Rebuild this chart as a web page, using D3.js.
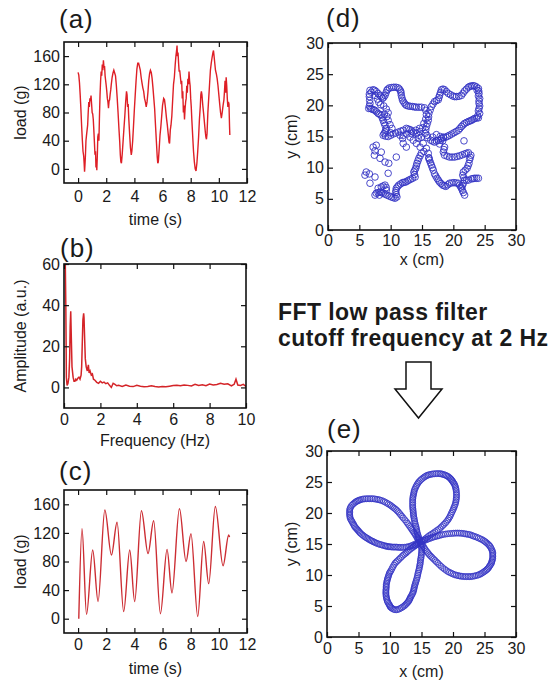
<!DOCTYPE html>
<html lang="en">
<head>
<meta charset="utf-8">
<title>Load signal, FFT and trajectory</title>
<script src="https://cdn.jsdelivr.net/npm/d3@7"></script>
<style>
	body { margin: 0; background: #fff; }
	svg text { font-family: "Liberation Sans", Arial, sans-serif; fill: #1a1a1a; }
</style>
</head>
<body>
<script>

var w = 557;
var h = 683;

// (a) raw load signal
var aTime = [0.00,0.05,0.10,0.15,0.20,0.25,0.30,0.35,0.40,0.43,0.46,0.49,0.52,0.56,0.60,0.64,0.68,0.72,0.76,0.80,0.84,0.88,0.92,0.96,1.00,1.04,1.08,1.12,1.16,1.20,1.24,1.27,1.30,1.33,1.37,1.40,1.44,1.48,1.52,1.56,1.60,1.64,1.68,1.72,1.76,1.80,1.84,1.88,1.92,1.96,2.00,2.04,2.08,2.12,2.16,2.20,2.24,2.28,2.32,2.36,2.42,2.48,2.54,2.60,2.66,2.72,2.78,2.84,2.90,2.96,3.00,3.04,3.08,3.14,3.20,3.26,3.32,3.38,3.44,3.48,3.52,3.56,3.60,3.66,3.72,3.78,3.82,3.88,3.94,4.00,4.06,4.12,4.18,4.24,4.30,4.36,4.42,4.48,4.54,4.60,4.66,4.72,4.78,4.84,4.90,4.96,5.02,5.08,5.14,5.20,5.26,5.32,5.38,5.44,5.50,5.56,5.62,5.66,5.70,5.76,5.82,5.88,5.94,6.00,6.08,6.14,6.20,6.28,6.34,6.40,6.46,6.50,6.55,6.60,6.66,6.72,6.78,6.84,6.90,6.95,7.00,7.03,7.06,7.10,7.14,7.18,7.22,7.27,7.32,7.36,7.40,7.44,7.48,7.52,7.56,7.60,7.64,7.68,7.72,7.76,7.80,7.84,7.88,7.92,7.96,8.00,8.04,8.08,8.12,8.16,8.20,8.26,8.32,8.38,8.44,8.50,8.56,8.62,8.68,8.72,8.76,8.80,8.86,8.92,8.98,9.04,9.08,9.12,9.16,9.22,9.28,9.34,9.40,9.46,9.52,9.58,9.62,9.66,9.70,9.76,9.82,9.88,9.94,10.00,10.06,10.12,10.18,10.24,10.30,10.36,10.40,10.44,10.48,10.52,10.56,10.60,10.64,10.68,10.72,10.76,10.78];
var aLoad = [137,133,122,105,85,62,42,25,18,8,-4,6,18,40,48,55,62,80,95,88,100,96,104,92,80,78,70,55,38,20,25,2,14,-2,20,45,50,40,75,105,125,138,132,148,140,154,144,146,132,125,118,110,100,95,86,96,98,106,112,120,130,136,140,136,132,118,100,80,58,38,20,10,8,22,40,58,75,95,110,105,88,92,72,50,30,20,25,40,62,85,105,125,142,150,150,145,140,130,122,115,110,100,95,88,95,108,125,135,140,137,128,115,100,85,62,40,18,8,10,28,48,60,75,90,100,98,88,72,62,50,38,36,55,62,75,98,120,130,148,160,168,175,160,165,150,138,140,130,120,125,100,110,80,90,70,85,95,100,118,108,128,120,138,125,118,100,88,70,55,40,25,10,0,-3,8,25,45,70,88,105,110,105,90,78,65,52,45,42,50,80,100,120,140,150,158,165,168,160,152,140,135,128,118,105,92,80,72,80,90,98,110,125,108,130,118,100,88,95,92,60,48];

// (b) amplitude spectrum
var bFreq = [0,0.05,0.10,0.13,0.17,0.22,0.27,0.31,0.34,0.37,0.40,0.44,0.50,0.55,0.60,0.65,0.70,0.76,0.82,0.88,0.94,0.97,1.00,1.04,1.08,1.10,1.13,1.17,1.22,1.28,1.34,1.38,1.43,1.50,1.56,1.62,1.70,1.80,1.90,2.00,2.10,2.20,2.30,2.40,2.50,2.60,2.70,2.80,2.90,3.00,3.20,3.40,3.60,3.80,4.00,4.20,4.40,4.60,4.80,5.00,5.20,5.40,5.60,5.80,6.00,6.20,6.40,6.60,6.80,7.00,7.20,7.40,7.60,7.80,8.00,8.20,8.40,8.60,8.80,9.00,9.20,9.35,9.45,9.55,9.70,9.85,10.00];
var bAmp = [80,75,40,5,1,2,5,14,30,37,25,10,5,3,3,4,3.5,4.5,5,4,6,10,20,33,36,34,25,14,10,8,11,7,8,6,6.5,4,3.5,2.5,2,3,2.2,2.6,1.8,2.2,1,0,2,1.5,0.8,1,0.5,1.2,0.6,0.4,1,0.6,0.3,0.5,0.8,0.4,0.2,0.5,0.3,0.6,0.9,1.1,0.8,1.2,1.0,0.7,1.5,0.9,1.3,0.8,1.6,1.2,1.4,2.0,1.5,1.8,0.8,1.5,4.0,1.2,1.0,1.5,0.5];

// (c) filtered load signal
var cTime = [0.05,0.28,0.60,1.04,1.42,1.90,2.37,2.77,3.24,3.67,4.02,4.50,4.97,5.37,5.85,6.32,6.67,7.20,7.67,8.02,8.50,8.92,9.28,9.75,10.30,10.70,10.76];
var cLoad = [0,126,6,96,24,152,89,135,10,96,24,151,91,137,7,97,36,154,80,119,3,108,49,157,74,117,114];

// (d) raw trajectory (x, y in cm)
var dTopLeft = [[15.4,19.6],[14.9,19.7],[14.5,19.7],[14.1,19.7],[13.8,19.75],[13.5,19.8],[13.1,19.85],[12.8,19.9],[12.5,20.0],[12.3,20.2],[12.1,20.5],[11.9,20.8],[11.8,21.2],[11.7,21.6],[11.65,22.0],[11.6,22.3],[11.4,22.6],[11.2,22.8],[10.85,22.9],[10.5,22.9],[10.15,22.85],[9.8,22.8],[9.55,22.6],[9.4,22.4],[9.25,22.0],[9.1,21.6],[8.9,21.3],[8.7,21.1],[8.5,21.35],[8.3,21.6],[8.0,21.9],[7.7,22.2],[7.45,22.4],[7.2,22.5],[6.9,22.1],[6.7,22.4],[6.6,21.8],[6.6,21.4],[6.65,20.8],[6.7,20.3],[6.6,19.9],[6.5,19.5],[6.8,19.5],[7.0,19.4],[7.25,19.3],[7.5,19.2],[7.75,18.95],[8.0,18.7],[8.25,18.55],[8.5,18.4],[8.65,18.0],[8.8,17.6],[8.95,17.2],[9.1,16.8],[9.3,16.3],[9.2,16.0],[9.1,15.7],[8.95,15.45],[8.8,15.2],[9.2,15.05],[9.6,15.0],[10.0,15.2],[10.4,15.4],[10.8,15.55],[11.2,15.7],[11.6,15.85],[12.0,16.0],[12.5,16.3],[12.8,16.2],[13.1,16.1],[13.35,15.9],[13.6,15.7],[14.1,15.5],[14.5,15.2],[14.9,14.9],
	[7.5,21.6],[7.9,21.0],[8.1,20.5],[8.4,20.1],[8.9,19.9],[9.3,19.4],[9.6,18.8],[9.4,18.2],[9.0,18.6],[9.6,17.6],[9.9,16.9],[10.2,16.3],[10.0,15.6],
	[15.6,19.2],[15.7,18.5],[15.6,17.8],[15.3,17.1],[15.1,16.4],[14.7,15.8]];
var dTopRight = [[15.5,15.5],[15.6,16.05],[15.7,16.6],[15.85,17.1],[16.0,17.6],[16.05,18.15],[16.1,18.7],[16.3,19.25],[16.5,19.8],[16.75,20.2],[17.0,20.6],[17.3,20.75],[17.6,20.9],[17.7,21.25],[17.8,21.6],[17.95,22.05],[18.1,22.5],[18.35,22.6],[18.6,22.5],[18.9,22.2],[19.2,21.9],[19.55,21.7],[19.9,21.5],[20.2,21.4],[20.5,21.4],[20.9,21.45],[21.3,21.6],[21.55,21.95],[21.8,22.3],[22.1,22.6],[22.4,22.9],[22.65,23.05],[22.9,23.1],[23.15,23.15],[23.4,23.1],[23.7,22.95],[24.0,22.7],[23.8,22.4],[24.05,22.3],[24.1,21.9],[24.0,21.5],[24.2,21.1],[24.1,20.7],[24.1,20.3],[24.2,19.9],[24.1,19.5],[24.0,19.1],[24.2,18.7],[23.9,18.3],[24.0,18.0],[23.7,17.95],[23.4,17.9],[23.15,17.75],[22.9,17.6],[22.65,17.5],[22.4,17.4],[22.1,17.25],[21.8,17.1],[21.55,16.85],[21.3,16.6],[21.05,16.3],[20.8,16.0],[20.45,15.8],[20.1,15.6],[19.75,15.4],[19.4,15.2],[19.1,15.05],[18.8,14.9],[18.45,14.8],[18.1,14.7],[17.6,14.4],[17.3,14.25],[17.0,14.1],[16.7,14.25],[16.4,14.4],[15.9,14.8]];
var dCentre = [[13.1,14.9],[13.6,14.4],[14.1,13.9],[14.7,13.3],[14.4,14.7],[15.2,13.9],[15.7,13.1],[16.0,12.3],[16.1,11.5],[15.3,12.6],[12.0,15.2],[12.6,15.4],[13.3,15.5],[11.5,15.2],[11.9,14.7],[12.0,13.9],[12.5,13.3],[14.0,16.0],[14.6,16.3],[15.8,15.2],[16.7,14.9],[17.3,15.3],[17.9,15.0],[18.3,14.3],[17.8,13.8],[18.4,14.9],[18.0,14.4]];
var dBottomRight = [[18.6,13.3],[18.5,12.9],[18.4,12.5],[18.6,12.0],[19.0,11.85],[19.4,11.7],[19.8,11.7],[20.2,11.7],[20.6,11.8],[21.0,11.9],[21.4,12.05],[21.8,12.2],[22.1,12.3],[22.4,12.4],[22.8,12.0],[22.7,11.65],[22.6,11.3],[22.5,10.7],[22.35,10.3],[22.2,9.9],[21.9,9.6],[21.6,9.3],[21.5,8.8],[21.65,8.4],[21.8,8.0],[22.1,8.0],[22.4,8.0],[22.9,8.2],[23.15,8.25],[23.4,8.3],[23.7,8.3],[24.0,8.3],[21.6,7.5],[21.45,7.1],[21.3,6.7],[21.45,6.35],[21.6,6.0],[21.8,5.6],[21.7,14.3],
	[16.1,11.6],[16.2,11.2],[16.35,10.8],[16.5,10.4],[16.65,10.0],[16.8,9.6],[17.0,9.0],[17.2,8.65],[17.4,8.3],[17.6,8.0],[17.8,7.7],[18.05,7.45],[18.3,7.2],[18.55,7.1],[18.8,7.0],[19.1,7.25],[19.4,7.5],[19.75,7.55],[20.1,7.6],[20.45,7.55],[20.8,7.5],[21.0,7.2],[21.2,6.9]];
var dBottomLeft = [[14.9,12.3],[14.7,11.9],[14.5,11.5],[14.35,11.1],[14.2,10.7],[14.1,10.3],[14.0,9.9],[13.85,9.6],[13.7,9.3],[13.8,8.9],[13.9,8.5],[13.5,8.3],[13.2,8.15],[12.9,8.0],[12.65,7.85],[12.4,7.7],[12.15,7.65],[11.9,7.6],[11.6,7.4],[11.3,7.2],[11.1,6.95],[10.9,6.7],[10.85,6.35],[10.8,6.0],[10.9,5.65],[11.0,5.3],[10.7,5.1],[10.4,5.2],[10.1,5.3],[9.75,5.45],[9.4,5.6],[9.1,5.75],[8.8,5.9],[8.55,6.0],[8.3,6.1],[8.0,6.0],[7.7,5.9],[8.0,6.7],[8.5,6.9],[8.8,7.05],[9.1,7.2],[9.3,6.8],[9.3,6.4],[7.5,5.6],[8.2,5.6]];
var dScatter = [[6.1,9.3],[5.9,8.8],[6.7,7.5],[7.5,8.5],[9.6,9.1],[9.7,10.7],[9.1,10.9],[8.3,11.5],[7.2,13.3],[7.7,13.6],[7.5,12.7],[8.5,12.5],[10.9,11.7],[7.4,12.0],[6.6,9.0]];

// (e) filtered trajectory, one petal at a time
var ePetalLeft = [[14.7,15.4],[14.45,15.25],[14.2,15.1],[13.9,14.95],[13.6,14.8],[13.35,14.7],[13.1,14.6],[12.85,14.55],[12.6,14.5],[12.3,14.47],[12.0,14.45],[11.75,14.45],[11.5,14.45],[11.25,14.47],[11.0,14.5],[10.75,14.5],[10.5,14.5],[10.25,14.52],[10.0,14.55],[9.8,14.57],[9.6,14.6],[9.4,14.65],[9.2,14.7],[8.95,14.77],[8.7,14.85],[8.45,14.92],[8.2,15.0],[7.95,15.1],[7.7,15.2],[7.5,15.3],[7.3,15.4],[7.1,15.5],[6.9,15.6],[6.7,15.72],[6.5,15.85],[6.3,15.97],[6.1,16.1],[5.9,16.25],[5.7,16.4],[5.5,16.57],[5.3,16.75],[5.15,16.92],[5.0,17.1],[4.85,17.27],[4.7,17.45],[4.55,17.62],[4.4,17.8],[4.3,18.0],[4.2,18.2],[4.07,18.42],[3.95,18.65],[3.82,18.87],[3.7,19.1],[3.64,19.35],[3.6,19.6],[3.59,19.82],[3.6,20.05],[3.59,20.27],[3.6,20.5],[3.66,20.73],[3.75,20.95],[3.9,21.2],[4.1,21.4],[4.3,21.58],[4.5,21.75],[4.67,21.86],[4.85,21.95],[5.02,22.03],[5.2,22.1],[5.45,22.18],[5.7,22.25],[5.97,22.28],[6.25,22.3],[6.52,22.31],[6.8,22.3],[7.07,22.31],[7.35,22.3],[7.62,22.26],[7.9,22.2],[8.15,22.16],[8.4,22.1],[8.67,22.01],[8.95,21.9],[9.22,21.76],[9.5,21.6],[9.75,21.45],[10.0,21.3],[10.22,21.13],[10.45,20.95],[10.67,20.78],[10.9,20.6],[11.1,20.4],[11.3,20.2],[11.5,19.95],[11.7,19.7],[11.9,19.45],[12.1,19.2],[12.35,18.9],[12.6,18.6],[12.77,18.35],[12.95,18.1],[13.12,17.85],[13.3,17.6],[13.45,17.37],[13.6,17.15],[13.75,16.92],[13.9,16.7],[14.05,16.45],[14.2,16.2],[14.32,16.0],[14.45,15.8],[14.58,15.6]];
var ePetalRight = [[14.8,15.3],[15.05,15.4],[15.3,15.5],[15.55,15.6],[15.8,15.7],[16.05,15.8],[16.3,15.9],[16.57,16.0],[16.85,16.1],[17.12,16.18],[17.4,16.25],[17.65,16.33],[17.9,16.4],[18.2,16.48],[18.5,16.55],[18.82,16.6],[19.15,16.65],[19.47,16.68],[19.8,16.7],[20.1,16.73],[20.4,16.75],[20.7,16.76],[21.0,16.75],[21.3,16.73],[21.6,16.7],[21.87,16.65],[22.15,16.6],[22.42,16.55],[22.7,16.5],[22.95,16.4],[23.2,16.3],[23.47,16.2],[23.75,16.1],[24.02,15.98],[24.3,15.85],[24.55,15.73],[24.8,15.6],[25.0,15.45],[25.2,15.3],[25.4,15.13],[25.6,14.95],[25.75,14.78],[25.9,14.6],[26.03,14.35],[26.15,14.1],[26.24,13.87],[26.3,13.65],[26.31,13.42],[26.3,13.2],[26.31,12.95],[26.3,12.7],[26.26,12.5],[26.2,12.3],[26.15,12.1],[26.1,11.9],[25.98,11.7],[25.85,11.5],[25.72,11.3],[25.6,11.1],[25.45,10.95],[25.3,10.8],[25.1,10.65],[24.9,10.5],[24.67,10.35],[24.45,10.2],[24.22,10.1],[24.0,10.0],[23.72,9.92],[23.45,9.85],[23.17,9.8],[22.9,9.75],[22.65,9.74],[22.4,9.75],[22.12,9.74],[21.85,9.75],[21.57,9.77],[21.3,9.8],[21.05,9.85],[20.8,9.9],[20.52,9.97],[20.25,10.05],[19.97,10.17],[19.7,10.3],[19.45,10.42],[19.2,10.55],[18.92,10.75],[18.65,10.95],[18.37,11.17],[18.1,11.4],[17.85,11.65],[17.6,11.9],[17.37,12.12],[17.15,12.35],[16.92,12.57],[16.7,12.8],[16.5,13.0],[16.3,13.2],[16.12,13.42],[15.95,13.65],[15.77,13.87],[15.6,14.1],[15.45,14.35],[15.3,14.6],[15.15,14.8],[15.0,15.0]];
var ePetalTop = [[14.8,15.4],[14.7,15.65],[14.6,15.9],[14.52,16.15],[14.45,16.4],[14.37,16.65],[14.3,16.9],[14.25,17.15],[14.2,17.4],[14.15,17.65],[14.1,17.9],[14.02,18.17],[13.95,18.45],[13.9,18.72],[13.85,19.0],[13.8,19.25],[13.75,19.5],[13.72,19.75],[13.7,20.0],[13.67,20.25],[13.65,20.5],[13.62,20.75],[13.6,21.0],[13.59,21.27],[13.6,21.55],[13.59,21.82],[13.6,22.1],[13.62,22.35],[13.65,22.6],[13.7,22.85],[13.75,23.1],[13.8,23.35],[13.85,23.6],[13.94,23.85],[14.05,24.1],[14.17,24.35],[14.3,24.6],[14.45,24.83],[14.6,25.05],[14.8,25.25],[15.0,25.45],[15.22,25.63],[15.45,25.8],[15.65,25.93],[15.85,26.05],[16.07,26.13],[16.3,26.2],[16.55,26.25],[16.8,26.3],[17.07,26.33],[17.35,26.35],[17.62,26.36],[17.9,26.35],[18.12,26.31],[18.35,26.25],[18.57,26.18],[18.8,26.1],[19.0,26.0],[19.2,25.9],[19.38,25.75],[19.55,25.6],[19.68,25.45],[19.8,25.3],[19.9,25.15],[20.0,25.0],[20.13,24.8],[20.25,24.6],[20.33,24.37],[20.4,24.15],[20.45,23.92],[20.5,23.7],[20.53,23.42],[20.55,23.15],[20.56,22.87],[20.55,22.6],[20.53,22.35],[20.5,22.1],[20.45,21.82],[20.4,21.55],[20.3,21.27],[20.2,21.0],[20.1,20.75],[20.0,20.5],[19.87,20.22],[19.75,19.95],[19.62,19.67],[19.5,19.4],[19.35,19.15],[19.2,18.9],[19.0,18.65],[18.8,18.4],[18.57,18.17],[18.35,17.95],[18.12,17.72],[17.9,17.5],[17.65,17.32],[17.4,17.15],[17.12,16.95],[16.85,16.75],[16.57,16.57],[16.3,16.4],[16.05,16.2],[15.8,16.0],[15.55,15.8],[15.3,15.6],[15.05,15.45]];
var ePetalBottom = [[14.9,15.0],[14.95,14.75],[15.0,14.5],[15.03,14.25],[15.05,14.0],[15.03,13.75],[15.0,13.5],[14.97,13.22],[14.95,12.95],[14.9,12.7],[14.85,12.45],[14.82,12.17],[14.8,11.9],[14.75,11.65],[14.7,11.4],[14.65,11.12],[14.6,10.85],[14.52,10.57],[14.45,10.3],[14.4,10.02],[14.35,9.75],[14.27,9.47],[14.2,9.2],[14.12,8.95],[14.05,8.7],[13.97,8.45],[13.9,8.2],[13.85,7.97],[13.8,7.75],[13.75,7.52],[13.7,7.3],[13.6,7.07],[13.5,6.85],[13.37,6.62],[13.25,6.4],[13.17,6.22],[13.1,6.05],[13.0,5.87],[12.9,5.7],[12.75,5.52],[12.6,5.35],[12.42,5.17],[12.25,5.0],[12.02,4.85],[11.8,4.7],[11.55,4.57],[11.3,4.45],[11.05,4.4],[10.8,4.4],[10.57,4.47],[10.35,4.6],[10.2,4.72],[10.05,4.85],[9.97,5.02],[9.9,5.2],[9.77,5.4],[9.65,5.6],[9.57,5.82],[9.5,6.05],[9.45,6.27],[9.4,6.5],[9.37,6.75],[9.35,7.0],[9.35,7.22],[9.35,7.45],[9.37,7.7],[9.4,7.95],[9.4,8.17],[9.4,8.4],[9.45,8.65],[9.5,8.9],[9.55,9.12],[9.6,9.35],[9.67,9.57],[9.75,9.8],[9.82,10.05],[9.9,10.3],[10.02,10.5],[10.15,10.7],[10.3,11.0],[10.45,11.3],[10.62,11.6],[10.8,11.9],[11.0,12.1],[11.2,12.3],[11.42,12.52],[11.65,12.75],[11.87,12.97],[12.1,13.2],[12.32,13.37],[12.55,13.55],[12.75,13.75],[12.95,13.95],[13.17,14.12],[13.4,14.3],[13.6,14.45],[13.8,14.6],[13.97,14.72],[14.15,14.85],[14.32,14.97],[14.5,15.1],[14.7,15.2]];

// tick values
var timeTicks = [0, 2, 4, 6, 8, 10, 12];
var loadTicks = [0, 40, 80, 120, 160];
var freqTicks = [0, 2, 4, 6, 8, 10];
var ampTicks = [0, 20, 40, 60];
var cmTicks = [0, 5, 10, 15, 20, 25, 30];

var svg = d3.select("body")
			.append("svg")
			.attr("width", w)
			.attr("height", h);

var clipCount = 0;

// one Matlab-like box with inward ticks on all four sides
function makePanel(o) {
	var x = d3.scaleLinear().domain(o.xd).range([o.l, o.r]);
	var y = d3.scaleLinear().domain(o.yd).range([o.b, o.t]);
	var g = svg.append("g");

	var id = "clip" + (clipCount++);
	svg.append("clipPath").attr("id", id)
		.append("rect")
		.attr("x", o.l).attr("y", o.t)
		.attr("width", o.r - o.l).attr("height", o.b - o.t);

	var plot = g.append("g").attr("clip-path", "url(#" + id + ")");

	var fmt = d3.format("d");
	g.append("g").attr("transform", "translate(0," + o.b + ")")
		.call(d3.axisBottom(x).tickValues(o.xt).tickSize(-5).tickPadding(o.xpad).tickFormat(fmt));
	g.append("g").attr("transform", "translate(" + o.l + ",0)")
		.call(d3.axisLeft(y).tickValues(o.yt).tickSize(-5).tickPadding(4).tickFormat(fmt));
	g.append("g").attr("transform", "translate(0," + o.t + ")")
		.call(d3.axisTop(x).tickValues(o.xt).tickSize(-5).tickFormat(""));
	g.append("g").attr("transform", "translate(" + o.r + ",0)")
		.call(d3.axisRight(y).tickValues(o.yt).tickSize(-5).tickFormat(""));

	g.selectAll(".domain").remove();
	g.selectAll(".tick line").attr("stroke", "#111").attr("stroke-width", 1.2);
	g.selectAll(".tick text").attr("font-size", 16);

	g.append("rect")
		.attr("x", o.l).attr("y", o.t)
		.attr("width", o.r - o.l).attr("height", o.b - o.t)
		.attr("fill", "none").attr("stroke", "#111").attr("stroke-width", 1.6);

	g.append("text")
		.attr("x", (o.l + o.r) / 2).attr("y", o.xly)
		.attr("text-anchor", "middle").attr("font-size", 16)
		.text(o.xl);
	g.append("text")
		.attr("transform", "translate(" + o.ylx + "," + ((o.t + o.b) / 2) + ") rotate(-90)")
		.attr("text-anchor", "middle").attr("font-size", 16)
		.text(o.yl);
	g.append("text")
		.attr("x", o.tx).attr("y", o.ty)
		.attr("font-size", 26).attr("letter-spacing", 1)
		.text(o.title);

	return {x: x, y: y, plot: plot};
}

// (a)
var pa = makePanel({l: 64, r: 247, t: 42, b: 183, xd: [-1, 12], yd: [-20, 180],
	xt: timeTicks, yt: loadTicks, xpad: 8, xl: "time (s)", xly: 225, yl: "load (g)", ylx: 26,
	title: "(a)", tx: 59, ty: 28});
pa.plot.append("path")
	.datum(d3.range(aTime.length))
	.attr("fill", "none").attr("stroke", "#de1f26").attr("stroke-width", 1.4)
	.attr("d", d3.line().x(function(i) { return pa.x(aTime[i]); }).y(function(i) { return pa.y(aLoad[i]); }));

// (b)
var pb = makePanel({l: 64, r: 246, t: 264, b: 408, xd: [0, 10], yd: [-10, 60],
	xt: freqTicks, yt: ampTicks, xpad: 6, xl: "Frequency (Hz)", xly: 446, yl: "Amplitude (a.u.)", ylx: 26,
	title: "(b)", tx: 60, ty: 257});
pb.plot.append("path")
	.datum(d3.range(bFreq.length))
	.attr("fill", "none").attr("stroke", "#d42428").attr("stroke-width", 1.5)
	.attr("d", d3.line().x(function(i) { return pb.x(bFreq[i]); }).y(function(i) { return pb.y(bAmp[i]); }));

// (c)
var pc = makePanel({l: 64, r: 247, t: 490, b: 633, xd: [-1, 12], yd: [-20, 180],
	xt: timeTicks, yt: loadTicks, xpad: 6, xl: "time (s)", xly: 674, yl: "load (g)", ylx: 26,
	title: "(c)", tx: 59, ty: 480});
pc.plot.append("path")
	.datum(d3.range(cTime.length))
	.attr("fill", "none").attr("stroke", "#cc2d33").attr("stroke-width", 1.4)
	.attr("d", d3.line().curve(d3.curveMonotoneX)
		.x(function(i) { return pc.x(cTime[i]); }).y(function(i) { return pc.y(cLoad[i]); }));

// (d)
var pd = makePanel({l: 328, r: 516, t: 43, b: 230, xd: [0, 30], yd: [0, 30],
	xt: cmTicks, yt: cmTicks, xpad: 5, xl: "x (cm)", xly: 265, yl: "y (cm)", ylx: 297,
	title: "(d)", tx: 326, ty: 27});
var dAll = [].concat(dTopLeft, dTopRight, dCentre, dBottomRight, dBottomLeft, dScatter);
pd.plot.selectAll("circle")
	.data(dAll)
	.enter()
	.append("circle")
	.attr("cx", function(d) { return pd.x(d[0]); })
	.attr("cy", function(d) { return pd.y(d[1]); })
	.attr("r", 3.3)
	.attr("fill", "none").attr("stroke", "#3434c4").attr("stroke-width", 0.9);

// (e)
var pe = makePanel({l: 327, r: 516, t: 451, b: 637, xd: [0, 30], yd: [0, 30],
	xt: cmTicks, yt: cmTicks, xpad: 6, xl: "x (cm)", xly: 677, yl: "y (cm)", ylx: 297,
	title: "(e)", tx: 327, ty: 438});
var eAll = [].concat(ePetalLeft, ePetalTop, ePetalRight, ePetalBottom);
pe.plot.selectAll("circle")
	.data(eAll)
	.enter()
	.append("circle")
	.attr("cx", function(d) { return pe.x(d[0]); })
	.attr("cy", function(d) { return pe.y(d[1]); })
	.attr("r", 3.0)
	.attr("fill", "none").attr("stroke", "#3434c4").attr("stroke-width", 0.8);

// caption and arrow between (d) and (e)
svg.append("text").attr("x", 278).attr("y", 320)
	.attr("font-size", 23).attr("font-weight", "bold").attr("letter-spacing", 0.4)
	.text("FFT low pass filter");
svg.append("text").attr("x", 278).attr("y", 346)
	.attr("font-size", 23).attr("font-weight", "bold").attr("letter-spacing", 0.4)
	.text("cutoff frequency at 2 Hz");

svg.append("path")
	.attr("d", "M406,362 L431,362 L431,389 L442,389 L418.5,418 L395,389 L406,389 Z")
	.attr("fill", "#fff").attr("stroke", "#111").attr("stroke-width", 1.5)
	.attr("stroke-linejoin", "miter");

</script>
</body>
</html>
